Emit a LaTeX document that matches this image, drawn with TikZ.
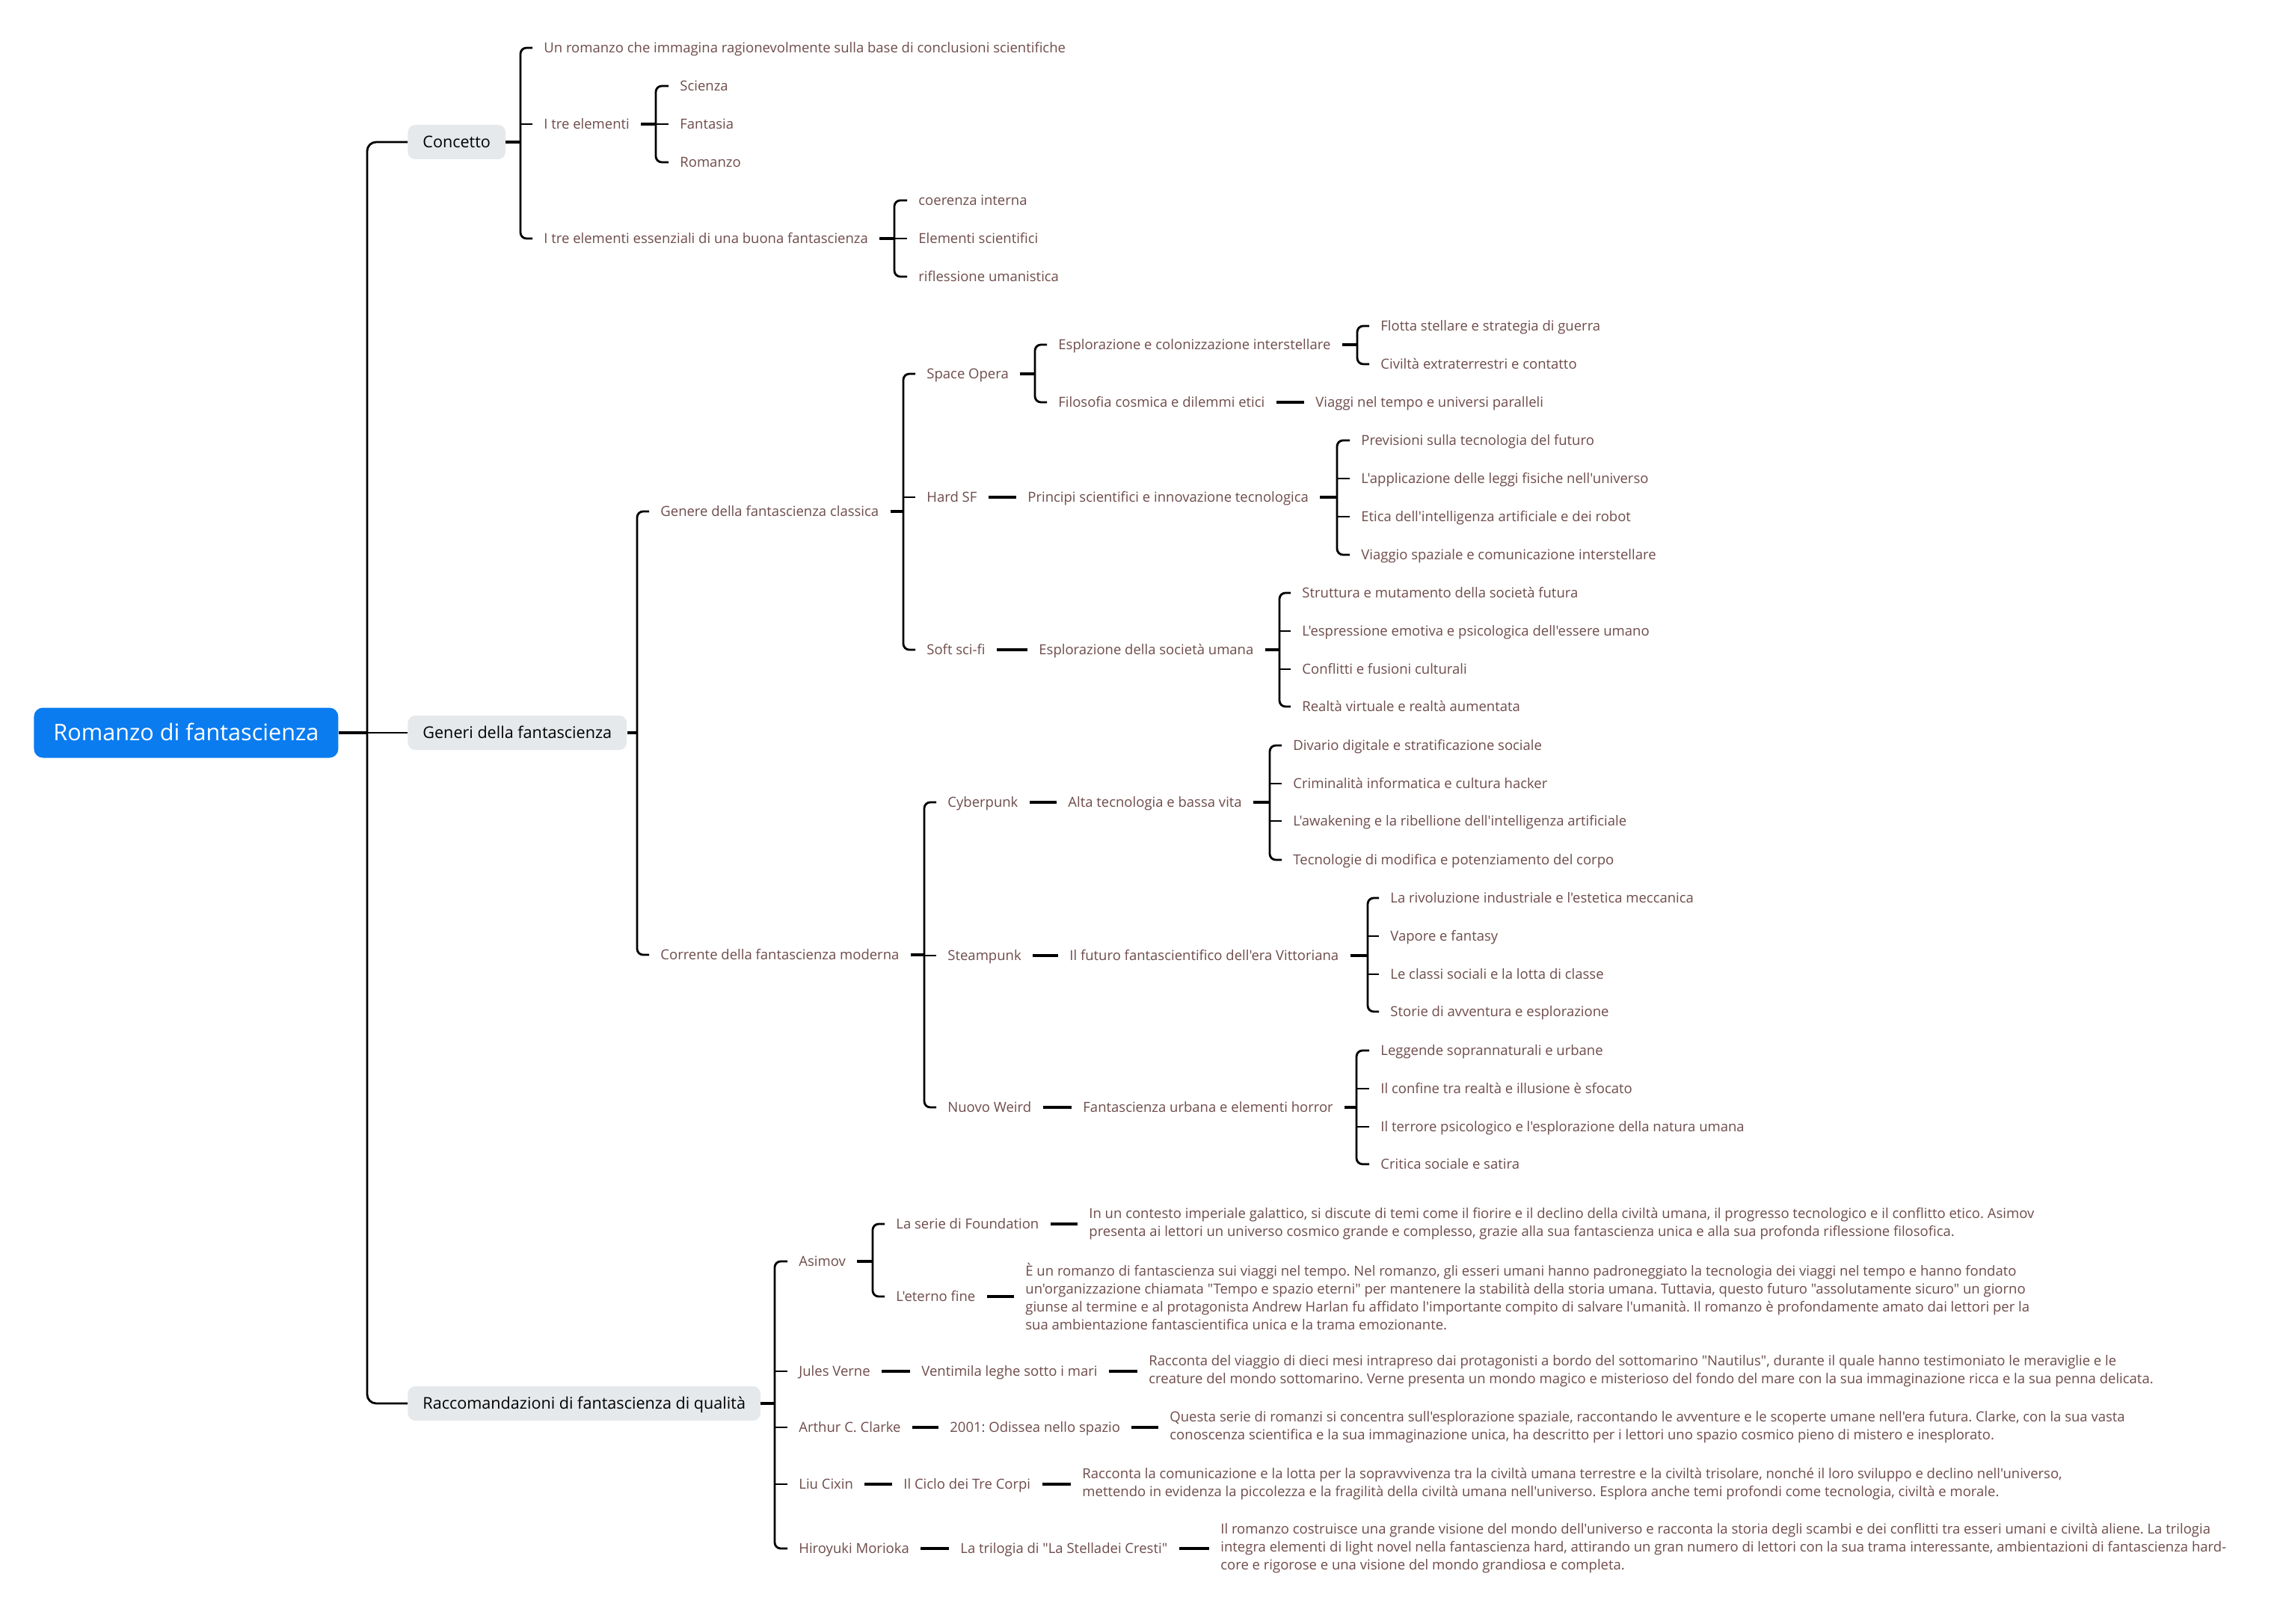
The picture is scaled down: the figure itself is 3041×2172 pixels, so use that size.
\documentclass[tikz,border=0pt]{standalone}
\usepackage{fontspec}
\newfontfamily\mapfont{Open Sans}[Ligatures=TeXOff]
\frenchspacing
\definecolor{rootblue}{RGB}{10,124,240}
\definecolor{topicgray}{RGB}{230,233,236}
\definecolor{leafbrown}{RGB}{110,76,75}
\tikzset{
  lnk/.style={line width=1.4pt, black},
  stub/.style={line width=1.8pt, black},
  rootbox/.style={anchor=west, fill=rootblue, text=white, rounded corners=6pt,
              inner xsep=13pt, minimum height=33.5pt, text height=10.9pt, text depth=0pt,
              font={\mapfont\fontsize{15.3}{18}\selectfont}},
  topic/.style={anchor=west, fill=topicgray, text=black, rounded corners=5pt,
              inner xsep=10pt, minimum height=23pt, text height=7.7pt, text depth=0pt,
              font={\mapfont\fontsize{10.8}{13}\selectfont}},
  item/.style={anchor=west, text=leafbrown, inner xsep=7.5pt, inner ysep=0pt,
              text height=6.6pt, text depth=0pt, font={\mapfont\fontsize{9.25}{12}\selectfont}},
  desc/.style={anchor=west, text=leafbrown, inner xsep=7.5pt, inner ysep=0pt, align=left,
              font={\mapfont\fontsize{9.25}{12}\selectfont}},
}
% parent, bracket x, first child, last child
\newcommand{\fork}[4]{%
  \coordinate (k) at (#2,0);
  \draw[stub] (#1.east) -- (#1.east -| k);
  \draw[lnk, rounded corners=4pt] (#3.west) -- (#3.west -| k) -- (#4.west -| k) -- (#4.west);}
\newcommand{\tee}[2]{%
  \coordinate (k) at (#2,0);
  \draw[lnk] (#1.west -| k) -- (#1.west);}
\newcommand{\pair}[2]{\draw[stub] (#1.east) -- (#2.west);}

\begin{document}
\begin{tikzpicture}[x=0.5pt, y=-0.5pt]
  \fill[white] (0,0) rectangle (3041,2172);
  \useasboundingbox (0,0) rectangle (3041,2172);

  \node[rootbox] (root) at (45,980) {Romanzo di fantascienza};
  \node[topic] (conc) at (545,190) {Concetto};
  \node[topic] (gen) at (545,980) {Generi della fantascienza};
  \node[topic] (racc) at (545,1877) {Raccomandazioni di fantascienza di qualità};

  % Concetto
  \node[item] (c1) at (712,64) {Un romanzo che immagina ragionevolmente sulla base di conclusioni scientifiche};
  \node[item] (c2) at (712,166) {I tre elementi};
  \node[item] (c3) at (712,319) {I tre elementi essenziali di una buona fantascienza};
  \node[item] (c2a) at (894,115) {Scienza};
  \node[item] (c2b) at (894,166) {Fantasia};
  \node[item] (c2c) at (894,217) {Romanzo};
  \node[item] (c3a) at (1213,268) {coerenza interna};
  \node[item] (c3b) at (1213,319) {Elementi scientifici};
  \node[item] (c3c) at (1213,370) {riflessione umanistica};

  % Generi
  \node[item] (g1) at (868,684) {Genere della fantascienza classica};
  \node[item] (g2) at (868,1277) {Corrente della fantascienza moderna};
  \node[item] (so) at (1224,500) {Space Opera};
  \node[item] (hsf) at (1224,665) {Hard SF};
  \node[item] (ssf) at (1224,869) {Soft sci-fi};
  \node[item] (so1) at (1400,461) {Esplorazione e colonizzazione interstellare};
  \node[item] (so2) at (1400,538) {Filosofia cosmica e dilemmi etici};
  \node[item] (so1a) at (1831,436) {Flotta stellare e strategia di guerra};
  \node[item] (so1b) at (1831,487) {Civiltà extraterrestri e contatto};
  \node[item] (so2a) at (1744,538) {Viaggi nel tempo e universi paralleli};
  \node[item] (hsf1) at (1359,665) {Principi scientifici e innovazione tecnologica};
  \node[item] (hsf1a) at (1805,589) {Previsioni sulla tecnologia del futuro};
  \node[item] (hsf1b) at (1805,640) {L'applicazione delle leggi fisiche nell'universo};
  \node[item] (hsf1c) at (1805,691) {Etica dell'intelligenza artificiale e dei robot};
  \node[item] (hsf1d) at (1805,742) {Viaggio spaziale e comunicazione interstellare};
  \node[item] (ssf1) at (1374,869) {Esplorazione della società umana};
  \node[item] (ssf1a) at (1726,793) {Struttura e mutamento della società futura};
  \node[item] (ssf1b) at (1726,844) {L'espressione emotiva e psicologica dell'essere umano};
  \node[item] (ssf1c) at (1726,895) {Conflitti e fusioni culturali};
  \node[item] (ssf1d) at (1726,945) {Realtà virtuale e realtà aumentata};
  \node[item] (cp) at (1252,1073) {Cyberpunk};
  \node[item] (sp) at (1252,1278) {Steampunk};
  \node[item] (nw) at (1252,1481) {Nuovo Weird};
  \node[item] (cp1) at (1413,1073) {Alta tecnologia e bassa vita};
  \node[item] (cp1a) at (1714,997) {Divario digitale e stratificazione sociale};
  \node[item] (cp1b) at (1714,1048) {Criminalità informatica e cultura hacker};
  \node[item] (cp1c) at (1714,1098) {L'awakening e la ribellione dell'intelligenza artificiale};
  \node[item] (cp1d) at (1714,1150) {Tecnologie di modifica e potenziamento del corpo};
  \node[item] (sp1) at (1415,1278) {Il futuro fantascientifico dell'era Vittoriana};
  \node[item] (sp1a) at (1844,1201) {La rivoluzione industriale e l'estetica meccanica};
  \node[item] (sp1b) at (1844,1252) {Vapore e fantasy};
  \node[item] (sp1c) at (1844,1303) {Le classi sociali e la lotta di classe};
  \node[item] (sp1d) at (1844,1353) {Storie di avventura e esplorazione};
  \node[item] (nw1) at (1433,1481) {Fantascienza urbana e elementi horror};
  \node[item] (nw1a) at (1831,1405) {Leggende soprannaturali e urbane};
  \node[item] (nw1b) at (1831,1456) {Il confine tra realtà e illusione è sfocato};
  \node[item] (nw1c) at (1831,1507) {Il terrore psicologico e l'esplorazione della natura umana};
  \node[item] (nw1d) at (1831,1557) {Critica sociale e satira};

  % Raccomandazioni
  \node[item] (as) at (1053,1687) {Asimov};
  \node[item] (jv) at (1053,1834) {Jules Verne};
  \node[item] (ac) at (1053,1909) {Arthur C. Clarke};
  \node[item] (lc) at (1053,1985) {Liu Cixin};
  \node[item] (hm) at (1053,2071) {Hiroyuki Morioka};
  \node[item] (as1) at (1183,1637) {La serie di Foundation};
  \node[item] (as2) at (1183,1734) {L'eterno fine};
  \node[desc] (as1d) at (1441,1637) {In un contesto imperiale galattico, si discute di temi come il fiorire e il declino della civiltà umana, il progresso tecnologico e il conflitto etico. Asimov\\
    presenta ai lettori un universo cosmico grande e complesso, grazie alla sua fantascienza unica e alla sua profonda riflessione filosofica.};
  \node[desc] (as2d) at (1356,1734) {È un romanzo di fantascienza sui viaggi nel tempo. Nel romanzo, gli esseri umani hanno padroneggiato la tecnologia dei viaggi nel tempo e hanno fondato\\
    un'organizzazione chiamata "Tempo e spazio eterni" per mantenere la stabilità della storia umana. Tuttavia, questo futuro "assolutamente sicuro" un giorno\\
    giunse al termine e al protagonista Andrew Harlan fu affidato l'importante compito di salvare l'umanità. Il romanzo è profondamente amato dai lettori per la\\
    sua ambientazione fantascientifica unica e la trama emozionante.};
  \node[item] (jv1) at (1217,1834) {Ventimila leghe sotto i mari};
  \node[desc] (jv1d) at (1521,1834) {Racconta del viaggio di dieci mesi intrapreso dai protagonisti a bordo del sottomarino "Nautilus", durante il quale hanno testimoniato le meraviglie e le\\
    creature del mondo sottomarino. Verne presenta un mondo magico e misterioso del fondo del mare con la sua immaginazione ricca e la sua penna delicata.};
  \node[item] (ac1) at (1255,1909) {2001: Odissea nello spazio};
  \node[desc] (ac1d) at (1549,1909) {Questa serie di romanzi si concentra sull'esplorazione spaziale, raccontando le avventure e le scoperte umane nell'era futura. Clarke, con la sua vasta\\
    conoscenza scientifica e la sua immaginazione unica, ha descritto per i lettori uno spazio cosmico pieno di mistero e inesplorato.};
  \node[item] (lc1) at (1193,1985) {Il Ciclo dei Tre Corpi};
  \node[desc] (lc1d) at (1432,1985) {Racconta la comunicazione e la lotta per la sopravvivenza tra la civiltà umana terrestre e la civiltà trisolare, nonché il loro sviluppo e declino nell'universo,\\
    mettendo in evidenza la piccolezza e la fragilità della civiltà umana nell'universo. Esplora anche temi profondi come tecnologia, civiltà e morale.};
  \node[item] (hm1) at (1269,2071) {La trilogia di "La Stelladei Cresti"};
  \node[desc] (hm1d) at (1617,2071) {Il romanzo costruisce una grande visione del mondo dell'universo e racconta la storia degli scambi e dei conflitti tra esseri umani e civiltà aliene. La trilogia\\
    integra elementi di light novel nella fantascienza hard, attirando un gran numero di lettori con la sua trama interessante, ambientazioni di fantascienza hard-\\
    core e rigorose e una visione del mondo grandiosa e completa.};

  % trunk
  \coordinate (kTr) at (491,0);
  \draw[line width=2pt] (root.east) -- (root.east -| kTr);
  \draw[lnk] (root.east -| kTr) -- (gen.west);
  \draw[lnk, rounded corners=6pt] (conc.west) -- (conc.west -| kTr) -- (racc.west -| kTr) -- (racc.west);

  % connectors
  \fork{conc}{696}{c1}{c3} \tee{c2}{696}
  \fork{c2}{877}{c2a}{c2c} \tee{c2b}{877}
  \fork{c3}{1196}{c3a}{c3c} \tee{c3b}{1196}
  \fork{gen}{852}{g1}{g2}
  \fork{g1}{1208}{so}{ssf} \tee{hsf}{1208}
  \fork{so}{1384}{so1}{so2}
  \fork{so1}{1815}{so1a}{so1b}
  \pair{so2}{so2a}
  \pair{hsf}{hsf1}
  \fork{hsf1}{1788}{hsf1a}{hsf1d} \tee{hsf1b}{1788} \tee{hsf1c}{1788}
  \pair{ssf}{ssf1}
  \fork{ssf1}{1711}{ssf1a}{ssf1d} \tee{ssf1b}{1711} \tee{ssf1c}{1711}
  \fork{g2}{1236}{cp}{nw} \tee{sp}{1236}
  \pair{cp}{cp1}
  \fork{cp1}{1698}{cp1a}{cp1d} \tee{cp1b}{1698} \tee{cp1c}{1698}
  \pair{sp}{sp1}
  \fork{sp1}{1829}{sp1a}{sp1d} \tee{sp1b}{1829} \tee{sp1c}{1829}
  \pair{nw}{nw1}
  \fork{nw1}{1814}{nw1a}{nw1d} \tee{nw1b}{1814} \tee{nw1c}{1814}
  \fork{racc}{1036}{as}{hm} \tee{jv}{1036} \tee{ac}{1036} \tee{lc}{1036}
  \fork{as}{1167}{as1}{as2}
  \pair{as1}{as1d}
  \pair{as2}{as2d}
  \pair{jv}{jv1} \pair{jv1}{jv1d}
  \pair{ac}{ac1} \pair{ac1}{ac1d}
  \pair{lc}{lc1} \pair{lc1}{lc1d}
  \pair{hm}{hm1} \pair{hm1}{hm1d}
\end{tikzpicture}
\end{document}
